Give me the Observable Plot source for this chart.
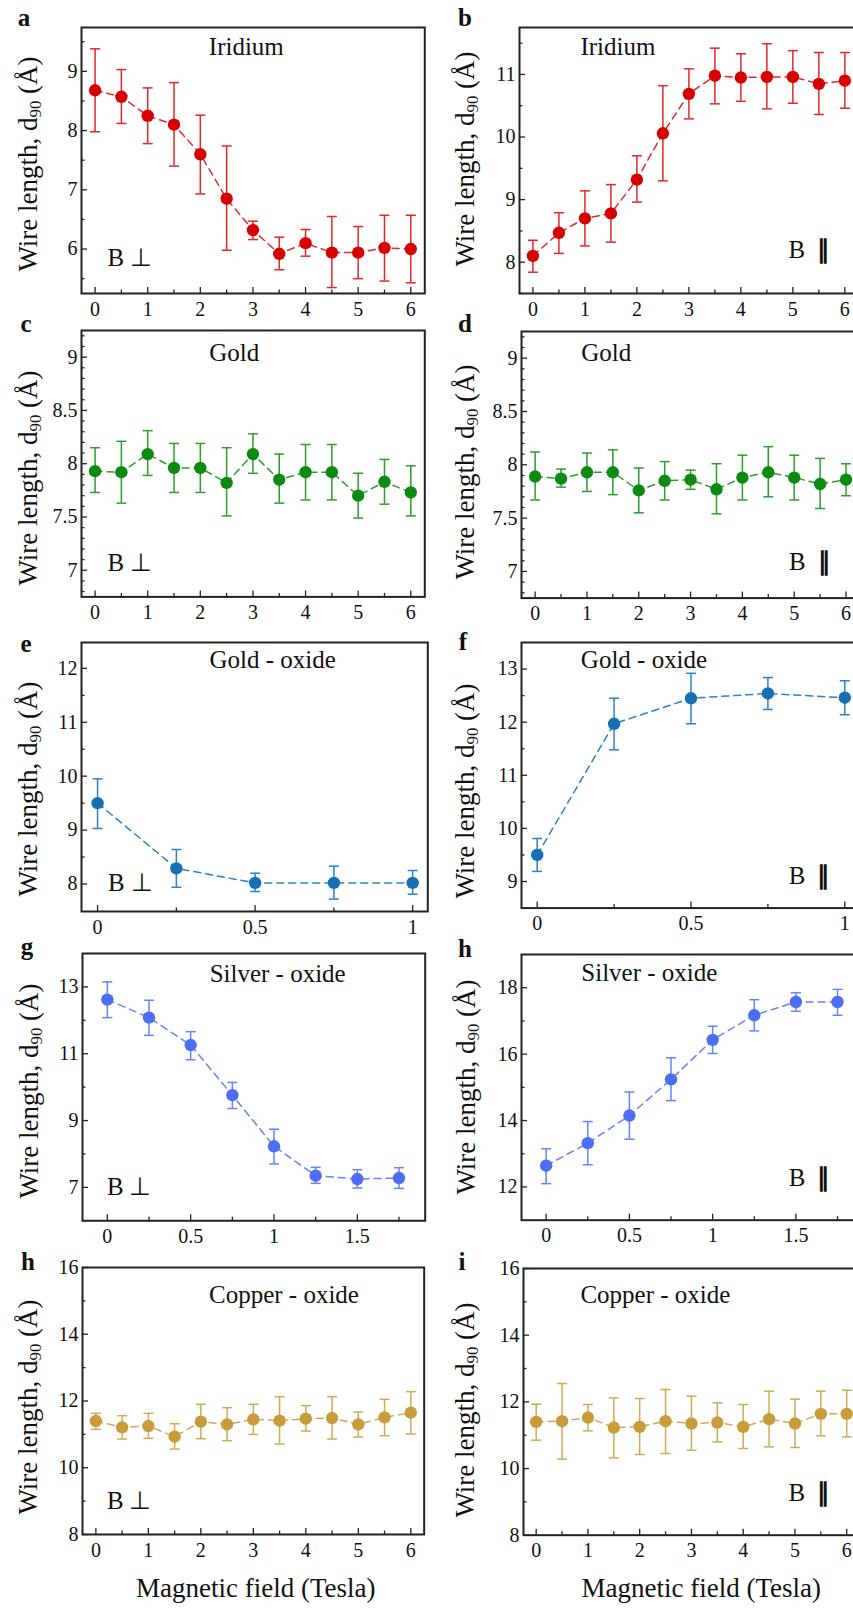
<!DOCTYPE html>
<html><head><meta charset="utf-8">
<script src="https://cdn.jsdelivr.net/npm/d3@7"></script>
<script src="https://cdn.jsdelivr.net/npm/@observablehq/plot@0.6"></script>
<style>
html,body{margin:0;padding:0;background:#fff;}
body{width:853px;height:1608px;overflow:hidden;position:relative;font-family:'Liberation Serif','Times New Roman',serif;color:#111;}
.panel{position:absolute;}
.panel svg{max-width:none !important;display:block;}
.lbl{position:absolute;white-space:nowrap;line-height:1;color:#111;font-family:'Liberation Serif',serif;}
.ylab{font-size:27px;transform:translate(-50%,-50%) rotate(-90deg);}
.ylab sub{font-size:0.62em;vertical-align:-0.28em;line-height:0;}
.letter{font-size:25px;font-weight:bold;transform:translate(-50%,-83.7%);}
.xlab{font-size:27px;transform:translate(-50%,-50%);}
</style></head><body>
<script>
// ---------- data ----------
const field13 = [0, 0.5, 1, 1.5, 2, 2.5, 3, 3.5, 4, 4.5, 5, 5.5, 6];
const field5 = [0, 0.25, 0.5, 0.75, 1];
const field8 = [0, 0.25, 0.5, 0.75, 1, 1.25, 1.5, 1.75];

const iridiumPerp   = [8.68, 8.57, 8.25, 8.10, 7.60, 6.85, 6.32, 5.92, 6.10, 5.94, 5.94, 6.02, 6.00];
const iridiumPerpHi = [9.38, 9.03, 8.72, 8.81, 8.26, 7.74, 6.47, 6.20, 6.33, 6.55, 6.38, 6.57, 6.57];
const iridiumPerpLo = [7.98, 8.12, 7.78, 7.40, 6.93, 5.98, 6.16, 5.65, 5.88, 5.35, 5.50, 5.46, 5.43];

const iridiumPar   = [8.10, 8.47, 8.70, 8.78, 9.32, 10.06, 10.69, 10.98, 10.95, 10.96, 10.96, 10.85, 10.90];
const iridiumParHi = [8.35, 8.79, 9.14, 9.24, 9.70, 10.82, 11.09, 11.42, 11.33, 11.49, 11.38, 11.35, 11.35];
const iridiumParLo = [7.84, 8.14, 8.26, 8.32, 8.96, 9.30, 10.29, 10.53, 10.57, 10.45, 10.54, 10.36, 10.46];

const goldPerp   = [7.93, 7.92, 8.09, 7.96, 7.96, 7.82, 8.09, 7.85, 7.92, 7.92, 7.70, 7.83, 7.73];
const goldPerpHi = [8.15, 8.21, 8.31, 8.19, 8.19, 8.15, 8.28, 8.09, 8.18, 8.18, 7.91, 8.04, 7.98];
const goldPerpLo = [7.73, 7.63, 7.89, 7.73, 7.73, 7.51, 7.91, 7.63, 7.66, 7.66, 7.49, 7.62, 7.51];

const goldPar   = [7.89, 7.87, 7.93, 7.93, 7.76, 7.85, 7.86, 7.77, 7.88, 7.93, 7.88, 7.82, 7.86];
const goldParHi = [8.12, 7.96, 8.11, 8.14, 7.97, 8.03, 7.95, 8.01, 8.09, 8.17, 8.09, 8.06, 8.01];
const goldParLo = [7.67, 7.79, 7.75, 7.72, 7.55, 7.67, 7.77, 7.54, 7.67, 7.70, 7.67, 7.59, 7.71];

const goldOxPerp   = [9.50, 8.29, 8.02, 8.02, 8.02];
const goldOxPerpHi = [9.95, 8.64, 8.20, 8.33, 8.25];
const goldOxPerpLo = [9.03, 7.94, 7.86, 7.72, 7.81];

const goldOxPar   = [9.50, 11.97, 12.45, 12.54, 12.46];
const goldOxParHi = [9.81, 12.45, 12.92, 12.84, 12.78];
const goldOxParLo = [9.19, 11.48, 11.97, 12.24, 12.14];

const silverOxPerp   = [12.62, 12.08, 11.26, 9.76, 8.23, 7.35, 7.25, 7.28];
const silverOxPerpHi = [13.15, 12.60, 11.66, 10.14, 8.74, 7.60, 7.53, 7.59];
const silverOxPerpLo = [12.08, 11.55, 10.82, 9.36, 7.70, 7.12, 6.98, 6.97];

const silverOxPar   = [12.64, 13.32, 14.15, 15.24, 16.43, 17.17, 17.57, 17.57];
const silverOxParHi = [13.15, 13.97, 14.86, 15.89, 16.84, 17.64, 17.85, 17.95];
const silverOxParLo = [12.10, 12.67, 13.44, 14.60, 16.02, 16.70, 17.29, 17.17];

const copperOxPerp   = [11.40, 11.21, 11.25, 10.93, 11.38, 11.30, 11.45, 11.41, 11.47, 11.49, 11.30, 11.51, 11.65];
const copperOxPerpHi = [11.63, 11.56, 11.63, 11.32, 11.90, 11.80, 11.90, 12.13, 11.86, 12.13, 11.67, 12.05, 12.28];
const copperOxPerpLo = [11.15, 10.86, 10.88, 10.56, 10.87, 10.81, 11.00, 10.71, 11.10, 10.86, 10.92, 10.96, 11.01];

const copperOxPar   = [11.40, 11.42, 11.53, 11.23, 11.25, 11.42, 11.35, 11.38, 11.25, 11.48, 11.35, 11.64, 11.64];
const copperOxParHi = [11.93, 12.55, 11.92, 12.12, 12.10, 12.37, 12.17, 11.97, 11.92, 12.32, 12.08, 12.32, 12.35];
const copperOxParLo = [10.85, 10.28, 11.13, 10.32, 10.42, 10.45, 10.55, 10.80, 10.60, 10.65, 10.63, 10.98, 10.95];

// tick labels
const xTicks6 = [0, 1, 2, 3, 4, 5, 6];
const xMinor6 = [0.5, 1.5, 2.5, 3.5, 4.5, 5.5];
const xTicks1 = [0, 0.5, 1];
const xMinor1 = [0.25, 0.75];
const xTicks2 = [0, 0.5, 1, 1.5];
const xMinor2 = [0.25, 0.75, 1.25, 1.75];
const yTicksIrPerp = [6, 7, 8, 9];
const yMinorIrPerp = [5.5, 6.5, 7.5, 8.5, 9.5];
const yTicksIrPar = [8, 9, 10, 11];
const yMinorIrPar = [7.5, 8.5, 9.5, 10.5, 11.5];
const yTicksGold = [7, 7.5, 8, 8.5, 9];
const yMinorGold = [6.8, 6.9, 7.1, 7.2, 7.3, 7.4, 7.6, 7.7, 7.8, 7.9, 8.1, 8.2, 8.3, 8.4, 8.6, 8.7, 8.8, 8.9, 9.1, 9.2];
const yTicksGoldOxPerp = [8, 9, 10, 11, 12];
const yMinorGoldOxPerp = [8.5, 9.5, 10.5, 11.5];
const yTicksGoldOxPar = [9, 10, 11, 12, 13];
const yMinorGoldOxPar = [9.5, 10.5, 11.5, 12.5];
const yTicksSilverPerp = [7, 9, 11, 13];
const yMinorSilverPerp = [8, 10, 12];
const yTicksSilverPar = [12, 14, 16, 18];
const yMinorSilverPar = [13, 15, 17];
const yTicksCopper = [8, 10, 12, 14, 16];
const yMinorCopper = [9, 11, 13, 15];

const titles = ["Iridium", "Iridium", "Gold", "Gold", "Gold - oxide", "Gold - oxide", "Silver - oxide", "Silver - oxide", "Copper - oxide", "Copper - oxide"];
const letters = ["a", "b", "c", "d", "e", "f", "g", "h", "h", "i"];
const fieldLetter = "B";
const fieldSymbols = ["\u22A5", "\u2225"];

const colIridium = ["#d70000", "#e02828"];
const colGold = ["#0c8a12", "#2c9e2c"];
const colGoldOx = ["#1670b8", "#2a82c8"];
const colSilverOx = ["#4d6df2", "#6584f5"];
const colCopperOx = ["#c89c3b", "#d0aa56"];

// ---------- panels ----------
const series = [
  {x: field13, m: iridiumPerp, hi: iridiumPerpHi, lo: iridiumPerpLo, xt: xTicks6, xm: xMinor6, yt: yTicksIrPerp, ym: yMinorIrPerp, col: colIridium, tag: 0},
  {x: field13, m: iridiumPar, hi: iridiumParHi, lo: iridiumParLo, xt: xTicks6, xm: xMinor6, yt: yTicksIrPar, ym: yMinorIrPar, col: colIridium, tag: 1},
  {x: field13, m: goldPerp, hi: goldPerpHi, lo: goldPerpLo, xt: xTicks6, xm: xMinor6, yt: yTicksGold, ym: yMinorGold, col: colGold, tag: 0},
  {x: field13, m: goldPar, hi: goldParHi, lo: goldParLo, xt: xTicks6, xm: xMinor6, yt: yTicksGold, ym: yMinorGold, col: colGold, tag: 1},
  {x: field5, m: goldOxPerp, hi: goldOxPerpHi, lo: goldOxPerpLo, xt: xTicks1, xm: xMinor1, yt: yTicksGoldOxPerp, ym: yMinorGoldOxPerp, col: colGoldOx, tag: 0},
  {x: field5, m: goldOxPar, hi: goldOxParHi, lo: goldOxParLo, xt: xTicks1, xm: xMinor1, yt: yTicksGoldOxPar, ym: yMinorGoldOxPar, col: colGoldOx, tag: 1},
  {x: field8, m: silverOxPerp, hi: silverOxPerpHi, lo: silverOxPerpLo, xt: xTicks2, xm: xMinor2, yt: yTicksSilverPerp, ym: yMinorSilverPerp, col: colSilverOx, tag: 0},
  {x: field8, m: silverOxPar, hi: silverOxParHi, lo: silverOxParLo, xt: xTicks2, xm: xMinor2, yt: yTicksSilverPar, ym: yMinorSilverPar, col: colSilverOx, tag: 1},
  {x: field13, m: copperOxPerp, hi: copperOxPerpHi, lo: copperOxPerpLo, xt: xTicks6, xm: xMinor6, yt: yTicksCopper, ym: yMinorCopper, col: colCopperOx, tag: 0},
  {x: field13, m: copperOxPar, hi: copperOxParHi, lo: copperOxParLo, xt: xTicks6, xm: xMinor6, yt: yTicksCopper, ym: yMinorCopper, col: colCopperOx, tag: 1}
];

// layout: frame box (page px), scale domains, text offsets
const layout = [
  {L: 80.7, T: 27.3, R: 424, B: 293.3, xd: [-0.258, 6.266], yd: [5.25, 9.74], ti: [164.8, 19.4], tg: [26, -35], yl: [28, 164], le: [24, 26]},
  {L: 519.3, T: 27.3, R: 858.5, B: 293.3, xd: [-0.258, 6.266], yd: [7.5, 11.75], ti: [98.4, 19.4], tg: [269, -43.3], yl: [465, 159], le: [465, 26]},
  {L: 80.7, T: 330.3, R: 424, B: 596.7, xd: [-0.258, 6.266], yd: [6.75, 9.25], ti: [152.8, 22.3], tg: [26, -33.4], yl: [28, 478], le: [26, 332]},
  {L: 520.7, T: 330.7, R: 859, B: 597.3, xd: [-0.263, 6.266], yd: [6.75, 9.25], ti: [84.8, 21.6], tg: [267.6, -35.6], yl: [465, 472], le: [465, 332]},
  {L: 80.7, T: 641.7, R: 427, B: 910.7, xd: [-0.051, 1.048], yd: [7.49, 12.48], ti: [191.1, 17.3], tg: [26.6, -28], yl: [28, 789], le: [26, 652]},
  {L: 521, T: 641.7, R: 859.7, B: 907.3, xd: [-0.051, 1.05], yd: [8.5, 13.5], ti: [122.5, 17.6], tg: [267.3, -32.3], yl: [465, 791], le: [463, 650]},
  {L: 82.3, T: 952.7, R: 425, B: 1220, xd: [-0.149, 1.907], yd: [6, 14], ti: [195.2, 20.6], tg: [24.4, -33.3], yl: [29, 1091], le: [27, 955]},
  {L: 521, T: 954.3, R: 862, B: 1220, xd: [-0.148, 1.9], yd: [11, 19], ti: [127.8, 18.4], tg: [267.3, -41.7], yl: [466, 1087], le: [465, 957]},
  {L: 82.3, T: 1267.3, R: 424, B: 1534.3, xd: [-0.255, 6.255], yd: [8, 16], ti: [201.5, 27.9], tg: [24.4, -33.3], yl: [28, 1407], le: [28, 1270]},
  {L: 523.3, T: 1268.3, R: 860, B: 1535, xd: [-0.245, 6.26], yd: [8, 16], ti: [131.9, 26.5], tg: [265, -41.7], yl: [465, 1410], le: [462, 1270]}
];
// horizontal offset of the field symbol after "B" (px), for ⊥ and ∥
const symbolGap = [22.5, 28.5];

const xTitlePos = [[255.8, 1588], [701.3, 1588]];

const capShape = {draw(ctx, size) { const w = Math.sqrt(size / Math.PI); ctx.moveTo(-w, 0); ctx.lineTo(w, 0); }};
const fontFamily = "'Liberation Serif', 'Times New Roman', serif";
const fmt = d => String(d);

series.forEach((s, i) => {
  const g = layout[i];
  const mL = 62, mR = 4, mT = 4, mB = 34;
  const w = (g.R - g.L) + mL + mR;
  const h = (g.B - g.T) + mT + mB;
  const data = s.x.map((x, j) => ({field: x, d90: s.m[j], lo: s.lo[j], hi: s.hi[j]}));
  const [dotCol, barCol] = s.col;
  const chart = Plot.plot({
    width: w, height: h,
    marginLeft: mL, marginRight: mR, marginTop: mT, marginBottom: mB,
    style: {fontFamily, fontSize: "20px", color: "#111", background: "transparent", overflow: "visible"},
    x: {domain: g.xd, label: null},
    y: {domain: g.yd, label: null},
    marks: [
      Plot.axisX({ticks: s.xt, tickSize: 6, dy: -6, fill: "none", stroke: "#222", strokeWidth: 1.3}),
      Plot.axisX({ticks: s.xm, tickSize: 3.5, dy: -3.5, fill: "none", stroke: "#222", strokeWidth: 1.3}),
      Plot.axisX({ticks: s.xt, tickSize: 0, tickPadding: 8, tickFormat: fmt, fontSize: 20, fontFamily}),
      Plot.axisY({ticks: s.yt, tickSize: 6, dx: 6, fill: "none", stroke: "#222", strokeWidth: 1.3}),
      Plot.axisY({ticks: s.ym, tickSize: 3.5, dx: 3.5, fill: "none", stroke: "#222", strokeWidth: 1.3}),
      Plot.axisY({ticks: s.yt, tickSize: 0, tickPadding: 4, tickFormat: fmt, fontSize: 20, fontFamily}),
      Plot.ruleX(data, {x: "field", y1: "lo", y2: "hi", stroke: barCol, strokeWidth: 1.5}),
      Plot.dot(data, {x: "field", y: "hi", symbol: capShape, r: 5, fill: "none", stroke: barCol, strokeWidth: 1.5}),
      Plot.dot(data, {x: "field", y: "lo", symbol: capShape, r: 5, fill: "none", stroke: barCol, strokeWidth: 1.5}),
      Plot.line(data, {x: "field", y: "d90", stroke: barCol, strokeWidth: 1.5, strokeDasharray: "7,5"}),
      Plot.dot(data, {x: "field", y: "d90", r: 6.2, fill: dotCol, stroke: "none"}),
      Plot.frame({stroke: "#222", strokeWidth: 2}),
      Plot.text([titles[i]], {text: d => d, frameAnchor: "top-left", dx: g.ti[0], dy: g.ti[1], textAnchor: "middle", lineAnchor: "middle", fontSize: 25, fontFamily, fill: "#111"}),
      Plot.text([fieldLetter], {text: d => d, frameAnchor: "bottom-left", dx: g.tg[0], dy: g.tg[1], textAnchor: "start", lineAnchor: "middle", fontSize: 25, fontFamily, fill: "#111"}),
      Plot.text([fieldSymbols[s.tag]], {text: d => d, frameAnchor: "bottom-left", dx: g.tg[0] + symbolGap[s.tag], dy: g.tg[1], textAnchor: "start", lineAnchor: "middle", fontSize: 25, fontWeight: s.tag ? "bold" : "normal", fontFamily, fill: "#111"})
    ]
  });
  const div = document.createElement("div");
  div.className = "panel";
  div.style.left = (g.L - mL) + "px";
  div.style.top = (g.T - mT) + "px";
  div.style.width = w + "px";
  div.appendChild(chart);
  document.body.appendChild(div);

  const yl = document.createElement("div");
  yl.className = "lbl ylab";
  yl.style.left = g.yl[0] + "px";
  yl.style.top = g.yl[1] + "px";
  yl.innerHTML = "Wire length, d<sub>90</sub> (\u00C5)";
  document.body.appendChild(yl);

  const le = document.createElement("div");
  le.className = "lbl letter";
  le.style.left = g.le[0] + "px";
  le.style.top = g.le[1] + "px";
  le.textContent = letters[i];
  document.body.appendChild(le);
});

xTitlePos.forEach(([x, y]) => {
  const t = document.createElement("div");
  t.className = "lbl xlab";
  t.style.left = x + "px";
  t.style.top = y + "px";
  t.textContent = "Magnetic field (Tesla)";
  document.body.appendChild(t);
});
</script>
</body></html>
